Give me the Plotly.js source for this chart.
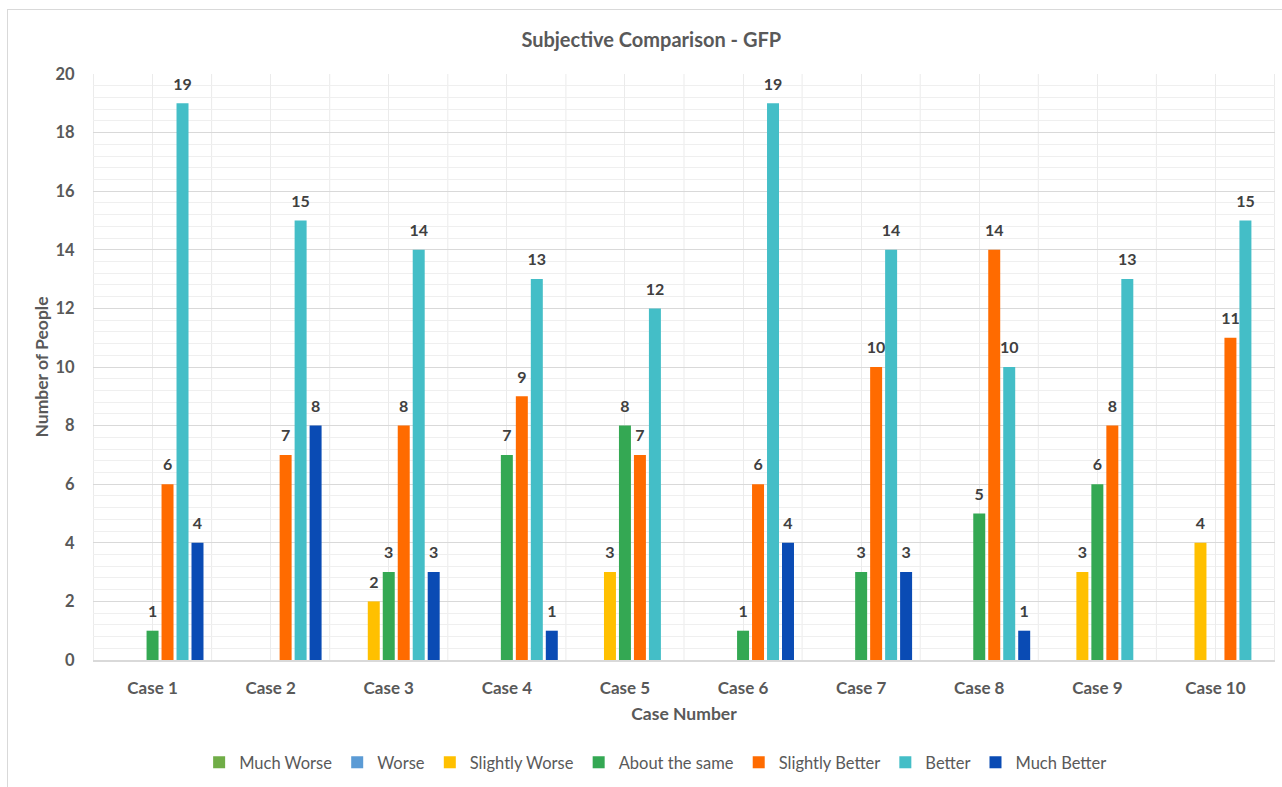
<!DOCTYPE html>
<html>
<head>
<meta charset="utf-8">
<script src="https://cdn.plot.ly/plotly-3.0.1.min.js"></script>
<style>
  html, body { margin: 0; padding: 0; background: #fff; }
  #wrap { position: relative; width: 1282px; height: 787px; overflow: hidden; }
  #chart { position: absolute; left: 0; top: 0; width: 1282px; height: 787px; }
  #frame { position: absolute; left: 7px; top: 9px; width: 1290px; height: 800px;
           border: 1px solid #d9d9d9; box-sizing: border-box; pointer-events: none; }
</style>
</head>
<body>
<div id="wrap">
  <div id="chart"></div>
  <div id="frame"></div>
</div>
<script>
// Cases on the x axis
const cases = ['Case 1', 'Case 2', 'Case 3', 'Case 4', 'Case 5',
               'Case 6', 'Case 7', 'Case 8', 'Case 9', 'Case 10'];

// Responses per rating, one value per case
const muchWorse     = [0, 0, 0, 0, 0, 0, 0, 0, 0, 0];
const worse         = [0, 0, 0, 0, 0, 0, 0, 0, 0, 0];
const slightlyWorse = [0, 0, 2, 0, 3, 0, 0, 0, 3, 4];
const aboutSame     = [1, 0, 3, 7, 8, 1, 3, 5, 6, 0];
const slightlyBetter= [6, 7, 8, 9, 7, 6, 10, 14, 8, 11];
const better        = [19, 15, 14, 13, 12, 19, 14, 10, 13, 15];
const muchBetter    = [4, 8, 3, 1, 0, 4, 3, 1, 0, 0];

const seriesNames = ['Much Worse', 'Worse', 'Slightly Worse', 'About the same',
                     'Slightly Better', 'Better', 'Much Better'];
const seriesValues = [muchWorse, worse, slightlyWorse, aboutSame,
                      slightlyBetter, better, muchBetter];
const seriesColors = ['#70AD47', '#5B9BD5', '#FFC000', '#34A853',
                      '#FF6B00', '#44BEC7', '#0A4BB4'];

const FONT = 'Lato, "Open Sans", sans-serif';
const GREY = '#595959';
const GAP = 0.112;

// the bars
const barTraces = seriesNames.map((name, i) => ({
  type: 'bar',
  name: name,
  x: cases,
  y: seriesValues[i],
  marker: { color: seriesColors[i] },
  hoverinfo: 'x+y+name'
}));

// value labels above each non-zero bar, grouped the same way as the bars
const labelTraces = seriesNames.map((name, i) => ({
  type: 'scatter',
  mode: 'markers+text',
  name: name,
  showlegend: false,
  x: cases,
  y: seriesValues[i],
  text: seriesValues[i].map(v => (v === 0 ? '' : String(v))),
  textposition: 'top center',
  textfont: { family: FONT, size: 16, color: '#404040', weight: 'bold' },
  marker: { size: 14, opacity: 0 },
  cliponaxis: false,
  hoverinfo: 'skip'
}));

// vertical separators between the case groups
const separators = [];
for (let i = 0; i <= cases.length; i++) {
  separators.push({
    type: 'line', xref: 'x', yref: 'paper',
    x0: i - 0.5, x1: i - 0.5, y0: 0, y1: 1,
    line: { color: '#ebebeb', width: 1 }, layer: 'below'
  });
}

const layout = {
  width: 1282, height: 787,
  margin: { l: 93, r: 7, t: 74, b: 125 },
  paper_bgcolor: 'rgba(0,0,0,0)',
  plot_bgcolor: '#fff',
  font: { family: FONT, color: GREY },
  title: {
    text: 'Subjective Comparison - GFP',
    font: { family: FONT, size: 20, color: GREY, weight: 'bold' },
    x: 0.508, xanchor: 'center', y: 0.949, yanchor: 'middle'
  },
  barmode: 'group',
  bargap: GAP,
  bargroupgap: 0.2,
  scattermode: 'group',
  scattergap: GAP,
  showlegend: true,
  legend: {
    orientation: 'h', x: 0.476, xanchor: 'center', y: -0.175, yanchor: 'middle',
    font: { family: FONT, size: 16.5, color: GREY },
    traceorder: 'normal', itemwidth: 30
  },
  xaxis: {
    type: 'category',
    showgrid: true, gridcolor: '#ebebeb', gridwidth: 1,
    showline: true, linecolor: '#d9d9d9', linewidth: 2,
    zeroline: false,
    ticks: 'outside', ticklen: 12, tickcolor: 'rgba(0,0,0,0)',
    tickfont: { family: FONT, size: 17, color: GREY, weight: 'bold' },
    title: {
      text: 'Case Number', standoff: 10,
      font: { family: FONT, size: 17.5, color: GREY, weight: 'bold' }
    },
    automargin: false
  },
  yaxis: {
    range: [0, 20],
    dtick: 2,
    showgrid: true, gridcolor: '#d9d9d9', gridwidth: 1,
    minor: { dtick: 0.4, showgrid: true, gridcolor: '#efefef', gridwidth: 1 },
    zeroline: false, showline: false,
    ticks: 'outside', ticklen: 14, tickcolor: 'rgba(0,0,0,0)',
    tickfont: { family: FONT, size: 16.5, color: GREY, weight: 'bold' },
    title: {
      text: 'Number of People', standoff: 2,
      font: { family: FONT, size: 17.5, color: GREY, weight: 'bold' }
    },
    automargin: false
  },
  shapes: separators
};

Plotly.newPlot('chart', barTraces.concat(labelTraces), layout,
               { displayModeBar: false, staticPlot: true });
</script>
</body>
</html>
